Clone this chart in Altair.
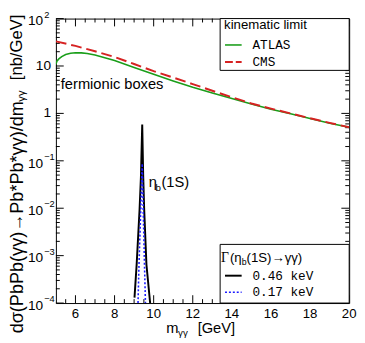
import altair as alt
import pandas as pd

# ---------------- data ----------------
cms_x = [5, 6, 7, 8, 9, 10, 11, 12, 13, 14, 15, 16, 17, 18, 19, 20]
cms_y = [33.0, 26.5, 20.5, 15.5, 11.0, 7.8, 5.7, 4.15, 3.0, 2.2, 1.62, 1.26, 1.0, 0.79, 0.63, 0.51]

atlas_x = [5.0, 5.05, 5.15, 5.3, 5.5, 5.75, 6.0, 6.3, 6.6, 7, 8, 9, 10, 11, 12, 13, 14, 15, 16, 17, 18, 19, 20]
atlas_y = [10.9, 12.6, 14.1, 15.8, 17.4, 18.6, 19.0, 18.9, 18.3, 17.0, 13.0, 9.3, 6.7, 4.85, 3.55,
           2.7, 2.07, 1.58, 1.23, 0.98, 0.78, 0.62, 0.51]

eta046_x = [9.02, 9.13, 9.28, 9.35, 9.415, 9.465, 9.515, 9.63, 9.82]
eta046_y = [1.3e-4, 6.5e-4, 9.5e-3, 4.7e-2, 0.585, 4.7e-2, 9.5e-3, 6.5e-4, 1.0e-4]

eta017_x = [9.2, 9.25, 9.335, 9.415, 9.47, 9.53, 9.58]
eta017_y = [1.0e-4, 6.5e-4, 8e-3, 0.087, 8e-3, 6.5e-4, 1.0e-4]

x_major = [6, 8, 10, 12, 14, 16, 18, 20]
x_labels = ["6", "8", "10", "12", "14", "16", "18", "20"]
x_minor = [5.5, 6.5, 7, 7.5, 8.5, 9, 9.5, 10.5, 11, 11.5, 12.5, 13, 13.5,
           14.5, 15, 15.5, 16.5, 17, 17.5, 18.5, 19, 19.5]

y_major = [1e-4, 1e-3, 1e-2, 1e-1, 1, 10, 100]
y_exp_vals = [1e-4, 1e-3, 1e-2, 1e-1, 100]
y_exp_text = ["\u22124", "\u22123", "\u22122", "\u22121", "2"]
y_plain_vals = [1, 10]
y_plain_text = ["1", "10"]
y_minor = [m * 10.0 ** e for e in range(-4, 2) for m in range(2, 10)]

W, H = 300, 291
xs = alt.Scale(domain=[5, 20], nice=False, zero=False)
ys = alt.Scale(type="log", domain=[1e-4, 100], nice=False)
SANS = "Liberation Sans"
MONO = "Liberation Mono"
SERIF = "Liberation Serif"
GREEN = "#1a9e1a"
RED = "#d62222"
BLUE = "#1a1aff"

one = pd.DataFrame({"a": [0]})


def curve(xv, yv, color, width, dash=None):
    df = pd.DataFrame({"x": xv, "y": yv, "o": list(range(len(xv)))})
    kw = dict(color=color, strokeWidth=width, clip=True)
    if dash:
        kw["strokeDash"] = dash
    return alt.Chart(df).mark_line(**kw).encode(
        x=alt.X("x:Q", scale=xs, axis=None),
        y=alt.Y("y:Q", scale=ys, axis=None),
        order="o:Q",
    )


def xticks(vals, y0, y1):
    return alt.Chart(pd.DataFrame({"v": vals})).mark_rule(color="black", strokeWidth=1).encode(
        x=alt.X("v:Q", scale=xs, axis=None), y=alt.value(y0), y2=alt.value(y1))


def yticks(vals, x0, x1):
    return alt.Chart(pd.DataFrame({"v": vals})).mark_rule(color="black", strokeWidth=1).encode(
        y=alt.Y("v:Q", scale=ys, axis=None), x=alt.value(x0), x2=alt.value(x1))


def label(text, x, y, size=15, font=SANS, align="left", baseline="alphabetic", angle=0, color="black"):
    kw = dict(text=text, fontSize=size, font=font, align=align, baseline=baseline, color=color)
    if angle:
        kw["angle"] = angle
    return alt.Chart(one).mark_text(**kw).encode(x=alt.value(x), y=alt.value(y))


def seg(x0, x1, y, color, width, dash=None):
    kw = dict(color=color, strokeWidth=width)
    if dash:
        kw["strokeDash"] = dash
    return alt.Chart(one).mark_rule(**kw).encode(x=alt.value(x0), x2=alt.value(x1), y=alt.value(y))


def box(x0, x1, y0, y1):
    return alt.Chart(one).mark_rect(fill="white", stroke="black", strokeWidth=1).encode(
        x=alt.value(x0), x2=alt.value(x1), y=alt.value(y0), y2=alt.value(y1))


layers = []
# ticks (inward, ROOT style)
layers += [xticks(x_major, H, H - 8), xticks(x_minor, H, H - 4),
           xticks(x_major, 0, 8), xticks(x_minor, 0, 4),
           yticks(y_major, 0, 8), yticks(y_minor, 0, 4),
           yticks(y_major, W, W - 8), yticks(y_minor, W, W - 4)]

# curves
layers += [curve(atlas_x, atlas_y, GREEN, 1.6),
           curve(cms_x, cms_y, RED, 2, [11, 5]),
           curve(eta046_x, eta046_y, "black", 2),
           curve(eta017_x, eta017_y, BLUE, 1.6, [2, 2])]

# tick labels
layers.append(alt.Chart(pd.DataFrame({"v": x_major, "t": x_labels})).mark_text(
    fontSize=13.5, font=SANS, baseline="top", align="center").encode(
    x=alt.X("v:Q", scale=xs, axis=None), y=alt.value(H + 4), text="t:N"))
layers.append(alt.Chart(pd.DataFrame({"v": y_exp_vals})).mark_text(
    fontSize=14, font=SANS, baseline="middle", align="right", text="10", dy=3).encode(
    y=alt.Y("v:Q", scale=ys, axis=None), x=alt.value(-13)))
layers.append(alt.Chart(pd.DataFrame({"v": y_exp_vals, "t": y_exp_text})).mark_text(
    fontSize=9.5, font=SANS, baseline="middle", align="left", dy=-4).encode(
    y=alt.Y("v:Q", scale=ys, axis=None), x=alt.value(-12), text="t:N"))
layers.append(alt.Chart(pd.DataFrame({"v": y_plain_vals, "t": y_plain_text})).mark_text(
    fontSize=14, font=SANS, baseline="middle", align="right").encode(
    y=alt.Y("v:Q", scale=ys, axis=None), x=alt.value(-5), text="t:N"))

# axis titles
layers += [label("m", 113, 322, 15),
           label("\u03b3\u03b3", 125, 325, 10),
           label("[GeV]", 145, 322, 15)]
layers += [label("d\u03c3(PbPb(\u03b3\u03b3)\u2192Pb*Pb*\u03b3\u03b3)/dm", -40, 322, 18.5,
                 align="left", baseline="middle", angle=270),
           label("\u03b3\u03b3", -35, 85, 11.5, align="left", baseline="middle", angle=270),
           label("[nb/GeV]", -40, -4, 17, align="right", baseline="middle", angle=270)]

# annotations
layers += [label("fermionic boxes", 5, 72, 15),
           label("\u03b7", 95, 172, 15),
           label("b", 102, 176, 10),
           label("(1S)", 108, 172, 15)]

# legend 1
layers += [box(168, W, 0, 53),
           label("kinematic limit", 172, 7, 13.5, baseline="middle"),
           seg(173, 190, 27, GREEN, 1.6),
           label("ATLAS", 201, 27, 13, font=MONO, baseline="middle"),
           seg(173, 190, 44.5, RED, 2, [8, 3]),
           label("CMS", 201, 44.5, 13, font=MONO, baseline="middle")]

# legend 2
layers += [box(168, W, 231, H),
           label("\u0393", 169, 245, 14, font=SERIF, baseline="middle"),
           label("(\u03b7", 178, 245, 13.5, baseline="middle"),
           label("b", 190, 249, 9, baseline="middle"),
           label("(1S)\u2192\u03b3\u03b3)", 195, 245, 13.5, baseline="middle"),
           seg(173, 190, 263, "black", 2),
           label("0.46 keV", 201, 263, 13, font=MONO, baseline="middle"),
           seg(173, 190, 280, BLUE, 1.6, [2, 2]),
           label("0.17 keV", 201, 280, 13, font=MONO, baseline="middle")]

chart = alt.layer(*layers).properties(
    width=W, height=H,
    autosize=alt.AutoSizeParams(type="none"),
    padding={"left": 49, "top": 7, "right": 8, "bottom": 35},
    background="white",
).configure_view(stroke="black", strokeWidth=1)

chart.save("out.html", embed_options={"renderer": "svg", "actions": False})
